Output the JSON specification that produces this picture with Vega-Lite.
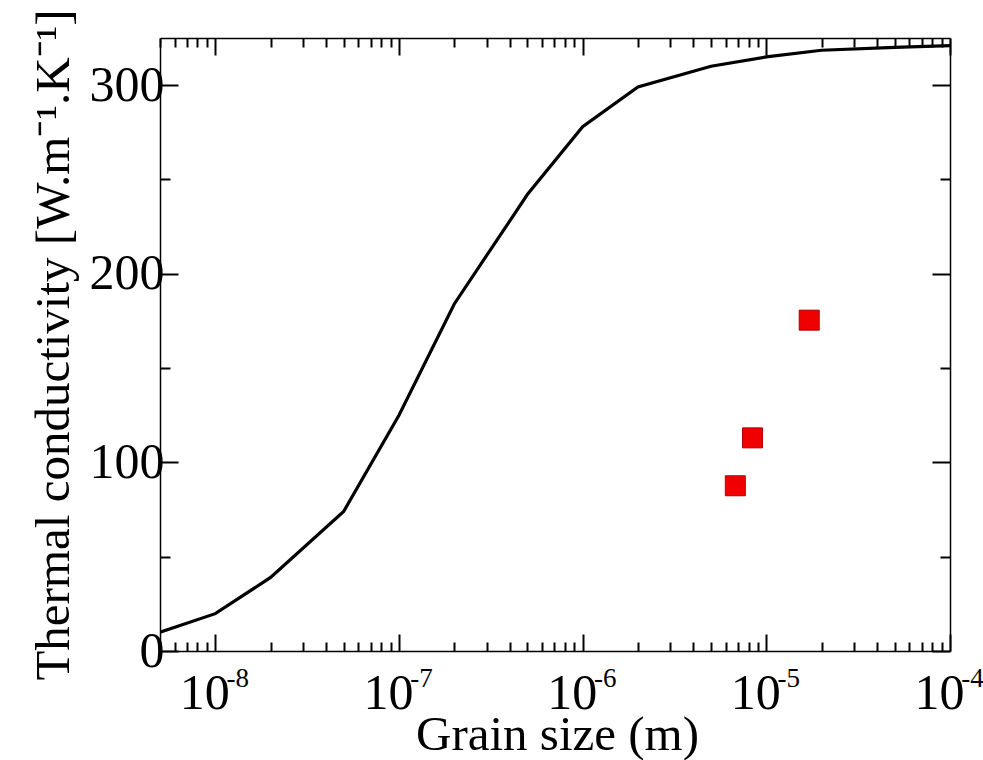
{
  "$schema": "https://vega.github.io/schema/vega-lite/v6.json",
  "autosize": {"type": "none"},
  "padding": {"left": 160, "top": 38, "right": 33, "bottom": 109},
  "width": 790,
  "height": 613,
  "background": "white",
  "config": {"view": {"stroke": null}, "font": "Liberation Serif"},
  "datasets": {
    "curve": [
      {"size": 5e-9, "k": 10},
      {"size": 1e-8, "k": 19.8},
      {"size": 2e-8, "k": 39},
      {"size": 5e-8, "k": 74},
      {"size": 1e-7, "k": 125},
      {"size": 2e-7, "k": 184},
      {"size": 5e-7, "k": 242},
      {"size": 1e-6, "k": 278},
      {"size": 2e-6, "k": 299},
      {"size": 5e-6, "k": 310},
      {"size": 1e-5, "k": 315},
      {"size": 2e-5, "k": 318.5},
      {"size": 5e-5, "k": 320},
      {"size": 1e-4, "k": 321}
    ],
    "measured": [
      {"size": 6.78e-6, "k": 87.6},
      {"size": 8.41e-6, "k": 113},
      {"size": 1.712e-5, "k": 175.4}
    ]
  },
  "resolve": {"axis": {"x": "independent", "y": "independent"}},
  "layer": [
    {
      "data": {"name": "curve"},
      "mark": {"type": "line", "color": "black", "strokeWidth": 3.2, "clip": true},
      "encoding": {
        "x": {
          "field": "size", "type": "quantitative",
          "scale": {"type": "log", "domain": [5e-9, 1e-4], "nice": false},
          "axis": {
            "orient": "bottom",
            "title": "Grain size (m)",
            "values": [5e-9,6e-9,7e-9,8e-9,9e-9,1e-8,2e-8,3e-8,4e-8,5e-8,6e-8,7e-8,8e-8,9e-8,1e-7,2e-7,3e-7,4e-7,5e-7,6e-7,7e-7,8e-7,9e-7,1e-6,2e-6,3e-6,4e-6,5e-6,6e-6,7e-6,8e-6,9e-6,1e-5,2e-5,3e-5,4e-5,5e-5,6e-5,7e-5,8e-5,9e-5,1e-4],
            "labelExpr": "abs(log(datum.value)/LN10 - round(log(datum.value)/LN10)) < 0.001 ? '10' : ''",
            "labelFlush": false,
            "labelOverlap": false,
            "labelFont": "Liberation Serif",
            "labelFontSize": 50,
            "labelColor": "black",
            "labelBaseline": "alphabetic",
            "labelPadding": 74,
            "labelOffset": -11,
            "tickSize": {"condition": {"test": "abs(log(datum.value)/LN10 - round(log(datum.value)/LN10)) < 0.001", "value": -17}, "value": -9},
            "tickColor": "black",
            "tickWidth": 2,
            "domainColor": "black",
            "domainWidth": 1.5,
            "grid": false,
            "titleFont": "Liberation Serif",
            "titleFontSize": 49,
            "titleFontWeight": "normal",
            "titleColor": "black",
            "titleBaseline": "alphabetic",
            "titleX": 397,
            "titleY": 98
          }
        },
        "y": {
          "field": "k", "type": "quantitative",
          "scale": {"domain": [0, 325], "nice": false, "zero": true},
          "axis": {
            "orient": "left",
            "title": "Thermal conductivity [W.m⁻¹.K⁻¹]",
            "values": [0, 50, 100, 150, 200, 250, 300],
            "labelExpr": "datum.value % 100 == 0 ? datum.label : ''",
            "labelFont": "Liberation Serif",
            "labelFontSize": 50,
            "labelColor": "black",
            "labelPadding": 14,
            "labelOverlap": false,
            "tickSize": {"condition": {"test": "datum.value % 100 == 0", "value": -18}, "value": -10},
            "tickColor": "black",
            "tickWidth": 2,
            "domainColor": "black",
            "domainWidth": 1.5,
            "grid": false,
            "titleFont": "Liberation Serif",
            "titleFontSize": 49,
            "titleFontWeight": "normal",
            "titleColor": "black",
            "titleBaseline": "alphabetic",
            "titleX": -92,
            "titleY": 306.5
          }
        }
      }
    },
    {
      "data": {"name": "measured"},
      "mark": {"type": "square", "color": "#f00000", "size": 400, "opacity": 1, "stroke": "#b00000", "strokeWidth": 1},
      "encoding": {
        "x": {
          "field": "size", "type": "quantitative",
          "axis": {
            "orient": "top",
            "title": null,
            "labels": false,
            "values": [5e-9,6e-9,7e-9,8e-9,9e-9,1e-8,2e-8,3e-8,4e-8,5e-8,6e-8,7e-8,8e-8,9e-8,1e-7,2e-7,3e-7,4e-7,5e-7,6e-7,7e-7,8e-7,9e-7,1e-6,2e-6,3e-6,4e-6,5e-6,6e-6,7e-6,8e-6,9e-6,1e-5,2e-5,3e-5,4e-5,5e-5,6e-5,7e-5,8e-5,9e-5,1e-4],
            "tickSize": {"condition": {"test": "abs(log(datum.value)/LN10 - round(log(datum.value)/LN10)) < 0.001", "value": -17}, "value": -9},
            "tickColor": "black",
            "tickWidth": 2,
            "domainColor": "black",
            "domainWidth": 1.5,
            "grid": false
          }
        },
        "y": {
          "field": "k", "type": "quantitative",
          "axis": {
            "orient": "right",
            "title": null,
            "labels": false,
            "values": [0, 50, 100, 150, 200, 250, 300],
            "tickSize": {"condition": {"test": "datum.value % 100 == 0", "value": -18}, "value": -10},
            "tickColor": "black",
            "tickWidth": 2,
            "domainColor": "black",
            "domainWidth": 1.5,
            "grid": false
          }
        }
      }
    },
    {
      "data": {"name": "curve"},
      "mark": {"type": "point", "opacity": 0},
      "encoding": {
        "x": {
          "field": "size", "type": "quantitative",
          "axis": {
            "orient": "bottom",
            "title": null,
            "domain": false,
            "ticks": false,
            "tickSize": 0,
            "grid": false,
            "values": [1e-8, 1e-7, 1e-6, 1e-5, 1e-4],
            "labelExpr": "'' + round(log(datum.value)/LN10)",
            "labelFlush": false,
            "labelOverlap": false,
            "labelFont": "Liberation Serif",
            "labelFontSize": 27,
            "labelColor": "black",
            "labelBaseline": "alphabetic",
            "labelPadding": 35,
            "labelOffset": 22
          }
        },
        "y": {"field": "k", "type": "quantitative", "axis": null}
      }
    }
  ]
}
